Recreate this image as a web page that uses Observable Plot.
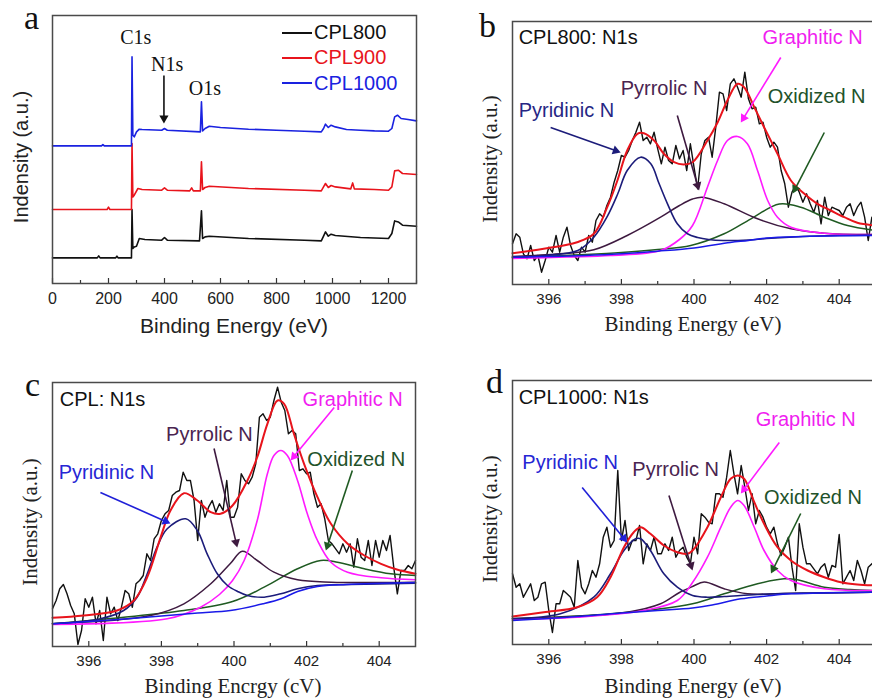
<!DOCTYPE html>
<html><head><meta charset="utf-8">
<script src="https://cdn.jsdelivr.net/npm/d3@7"></script>
<script src="https://cdn.jsdelivr.net/npm/@observablehq/plot@0.6"></script>
<style>
html,body{margin:0;padding:0;background:#fff;overflow:hidden}
#root{position:relative;width:872px;height:699px;overflow:hidden;background:#fff}
.panel{position:absolute}
.lbl{position:absolute;white-space:nowrap;line-height:1}
.serif{font-family:"Liberation Serif","Times New Roman",serif}
.sans{font-family:"Liberation Sans",Arial,sans-serif}
.rot{transform:translate(-50%,-50%) rotate(-90deg);transform-origin:center}
.leg{position:absolute;display:flex;align-items:center;height:22px;font-family:"Liberation Sans",Arial,sans-serif;font-size:20px}
.leg span.ln{display:inline-block;width:30px;height:2px;margin-right:2px}
</style></head>
<body><div id="root"></div>
<script>
// ---------- DATA ----------
// Panel a: survey spectra [binding energy eV, intensity a.u.]
const survey800 = [[0,25.6],[160,25.6],[165,27.6],[170,25.6],[225,25.6],[230,27.3],[235,25.6],[282,25.6],[284,74],[287,35],[292,36.6],[300,37.3],[310,45],[330,44],[390,43.3],[400,46],[410,43.3],[525,42.6],[532,72.6],[536,45],[545,46.6],[560,47.3],[700,45],[900,43.3],[960,42.6],[968,47.3],[975,51.6],[985,47.3],[995,49.3],[1010,48],[1100,46],[1200,45],[1212,50],[1222,62.6],[1235,61.6],[1250,58.3],[1300,57.3]];
const survey900 = [[0,74],[195,74],[200,76.3],[205,74],[282,74],[284,140],[287,86.6],[292,88.3],[305,95],[320,94],[390,93.3],[400,95.6],[410,93.3],[490,92.6],[497,95.6],[503,92.6],[528,92.6],[532,121.6],[536,94],[545,96],[560,97.3],[700,95],[900,93.3],[960,92.6],[968,96.6],[975,100],[985,96],[995,98],[1010,96.6],[1065,94.6],[1072,100.6],[1078,94.6],[1150,94],[1200,93.3],[1212,96.6],[1222,112.6],[1235,113.3],[1250,110],[1300,109]];
const survey1000 = [[0,137.6],[175,137.6],[180,139],[185,137.6],[282,137.6],[284,226.6],[287,148.3],[292,146.7],[300,151.6],[310,154.3],[320,154],[390,153.3],[400,155],[410,153.3],[528,151.6],[532,181.6],[536,152.6],[545,155],[560,157.3],[600,156],[700,154.3],[800,153.3],[900,152.3],[960,151.6],[968,155],[975,159.3],[985,156],[995,158.3],[1010,156.6],[1050,154],[1100,153.3],[1150,152.6],[1200,152.3],[1212,155],[1222,166.6],[1232,168.3],[1245,165],[1270,164],[1300,162.6]];
const surveyNames = ["CPL800","CPL900","CPL1000"];
const surveyTicks = [0,200,400,600,800,1000,1200];
const surveyMinor = [100,300,500,700,900,1100,1300];
const surveyLabels = [{t:"C1s",x:242,y:240},{t:"N1s",x:352,y:213},{t:"O1s",x:486.5,y:189}];
const surveyArrow = [{x1:398,y1:208,x2:398,y2:160}];

// N1s panels: raw spectra on 0.1 eV grid from 395 to 405
const n1sTicks = [396,398,400,402,404];
const n1sMinor = [397,399,401,403];
const rawB = [40.7,50.7,47.3,30.7,25.7,39,24,29,12.3,24, 37.3,32.3,49,32.3,47.3,57.3,39,29,24,37.3, 32.3,49,42.3,64,70.7,67.3,79,87.3,102.3,114, 129,127.3,134,144,152.3,162.3,144,147.3,140.7,152.3, 135.7,120.7,137.3,124,120.7,139,125.7,134,114,140.7, 117.3,95.7,130.7,144,147.3,127.3,157.3,192.3,190.7,174, 200.7,205.7,197.3,187.3,212.3,185.7,175.7,177.3,160.7,162.3, 147.3,137.3,142.3,137.3,114,100.7,77.3,92.3,99,92.3, 82.3,90.7,80.7,72.3,84,60.7,87.3,69,77.3,75.7, 74,69,77.3,80.7,69,77.3,82.3,67.3,44,67.3, 64];
const rawC = [37.7,46,57.7,62,52.7,41,32.7,2,16,47.7, 39.3,49.3,22.7,36,6,49.3,32.7,39.3,26,39.3, 56,52.7,39.3,62.7,66,71,92.7,86,107.7,112.7, 126,132.7,136,151,154.3,156,174.3,166,166,146, 106,146,129.3,139.3,146,134.3,142.7,136,166,129.3, 129.3,139.3,172.7,166,162.7,169.3,182.7,229.3,232.7,226, 229.3,246,259.3,244.3,236,212.7,216,212.7,176,177.7, 172.7,174.3,152.7,139.3,142.7,127.7,106,102.7,97.7,92.7, 102.7,94.3,102.7,79.3,107.7,89.3,86,106,81,106, 89.3,106,96,111,79.3,52.7,76,76,81,77.7, 86];
const rawD = [70.7,57.3,60.7,47.3,54,60.7,44,47.3,60.7,62.3, 34,12,40.7,40.7,54,50.7,47.3,37.3,84,57.3, 50.7,60.7,74,67.3,80.7,107.3,117.3,97.3,104,174, 104,124,94,104,104,119,80.7,100.7,94,107.3, 90.7,90.7,100.7,94,107.3,87.3,94,97.3,87.3,80.7, 107.3,90.7,130.7,127.3,122.3,120.7,150.7,150.7,147.3,167.3, 194,170.7,150.7,179,157.3,134,150.7,120.7,134,127.3, 117.3,110.7,117.3,100.7,89,97.3,107.3,77.3,54,120.7, 97.3,80.7,80.7,75.7,70.7,77.3,80.7,67.3,79,77.3, 110,60.7,67.3,74,64,84,74,60.7,77.3,80.7, 84];

// Fitted components [eV, intensity]
const baseB = [[395,27.3],[396,28],[397,29],[398,30.7],[399,33.3],[400,36.5],[401,42],[401.5,44],[402,46.5],[403,48],[404,48.7],[405,49]];
const pyridB = [[395,27.3],[395.9,29],[396.8,34],[397.24,47.3],[397.6,67.3],[397.9,90.7],[398.16,114],[398.53,127.3],[398.81,120.7],[399.04,100.7],[399.27,80.7],[399.54,60.7],[399.82,50.7],[400.1,47],[400.4,45],[400.8,44],[401.5,44.5],[402,46],[403,48],[404,49],[405,49.5]];
const pyrroB = [[395,28],[396.3,30.7],[397.24,34.7],[398.16,49],[399.08,67.3],[399.6,79],[399.96,85.5],[400.23,87.3],[400.83,80.7],[401.75,65.7],[402.67,55.7],[403.59,51.3],[405,50]];
const graphB = [[395,26],[396.5,27.5],[397.7,29],[399.08,34],[399.6,45],[399.96,59],[400.37,97.3],[400.65,124],[400.92,144],[401.2,148],[401.47,140.7],[401.75,114],[402.03,84],[402.3,67.3],[402.67,57.3],[403.5,51.5],[405,50]];
const oxidB = [[395,27],[397,30],[398,32],[399,35],[399.91,39],[400.83,50.7],[401.57,65.7],[402.35,80.5],[402.94,77.3],[403.59,67.3],[404.23,59],[405,54]];
const envB = [[395,31.3],[395.86,35.7],[396.78,42.3],[397.24,50.7],[397.61,77.3],[397.89,104],[398.16,134],[398.44,150.7],[398.62,151.3],[398.9,144],[399.17,130.7],[399.45,122.3],[399.72,120],[399.96,122.3],[400.37,144],[400.65,162],[400.92,184],[401.2,200.7],[401.38,197.3],[401.66,177.3],[401.93,157.3],[402.3,130.7],[402.67,104],[403.04,90.7],[403.4,80.7],[403.77,74],[404.14,67.3],[404.5,61.7],[405,59]];

const baseC = [[395,22.7],[396,25],[397,27.5],[398,30.5],[399,33.5],[399.9,36],[400.8,42.7],[401.3,47.7],[401.75,55],[402.3,60],[403.1,62],[405,64]];
const pyridC = [[395,22.7],[396.32,27.7],[396.96,36],[397.33,49.3],[397.61,72.7],[397.88,99.3],[398.16,117.7],[398.67,127.7],[398.99,116],[399.26,92.7],[399.54,72.7],[399.82,61],[400.1,55],[400.37,51],[400.83,49.3],[401.29,52.7],[401.75,57.7],[402.3,61],[403.2,62],[405,63.3]];
const pyrroC = [[395,22.7],[397.7,31],[398.62,42.7],[399.36,62.7],[399.9,83],[400.23,95.3],[400.64,86],[401.1,74.3],[401.75,66.7],[402.67,64.3],[405,64.3]];
const graphC = [[395,22],[398.16,27.7],[399.08,39.3],[399.6,52],[399.96,66],[400.28,86],[400.64,126],[400.92,172.7],[401.1,191],[401.29,196],[401.47,191],[401.75,166],[402.02,132.7],[402.3,106],[402.67,84.3],[403.13,74.3],[404.05,68.7],[405,66.7]];
const oxidC = [[395,22.7],[398.62,36],[399.96,45],[400.83,59.3],[401.75,77.7],[402.39,86],[402.85,84.3],[403.59,77.7],[404.32,72.7],[405,71]];
const envC = [[395,28.7],[395.86,31],[396.78,36],[397.24,46],[397.61,69.3],[397.98,109.3],[398.25,136],[398.62,153.3],[398.99,146],[399.36,134.3],[399.63,132.7],[399.96,141],[400.37,166],[400.64,189.3],[400.92,222.7],[401.2,246],[401.38,242.7],[401.65,212.7],[401.93,182.7],[402.3,149.3],[402.67,122.7],[403.13,102.7],[403.59,91],[404.05,82.7],[404.51,76.7],[405,72.7]];

const baseD = [[395,24],[396,26],[397,28.5],[398,31.5],[399,34],[399.96,36.5],[400.5,39.5],[401.29,45.7],[402,48.5],[402.67,50.7],[403.5,51.5],[405,52.3]];
const pyridD = [[395,25.7],[396.32,30.7],[397.24,47.3],[397.7,70.7],[398.07,94],[398.39,105.7],[398.53,105.7],[398.8,94],[399.17,70.7],[399.54,57.3],[399.96,49],[400.37,47.3],[400.83,48],[401.75,50],[403,51.5],[405,52.3]];
const pyrroD = [[395,26],[396.32,27.3],[398.16,32.3],[399.08,40.7],[399.6,52],[399.96,58],[400.28,62.5],[400.83,55.7],[401.47,50.7],[402.5,51],[405,52.3]];
const graphD = [[395,25],[396.78,27.3],[398.62,34],[399.54,44],[399.96,62],[400.37,87.3],[400.74,117.3],[401.01,137.3],[401.2,144],[401.38,139],[401.66,117.3],[401.93,94],[402.3,74],[402.67,64],[403.59,55.7],[405,54]];
const oxidD = [[395,25.7],[397.7,30.7],[399.96,40.7],[400.83,50.7],[401.75,60.7],[402.48,65.7],[402.85,64.7],[403.59,57.3],[404.3,55],[405,54]];
const envD = [[395,28],[395.86,32.3],[396.78,37.3],[397.33,47.3],[397.7,67.3],[398.07,97.3],[398.34,112.3],[398.53,117.3],[398.8,110.7],[399.17,99],[399.54,92.3],[399.82,90.7],[399.96,94],[400.37,117.3],[400.74,147.3],[401.01,165.7],[401.2,169],[401.38,165.7],[401.66,142.3],[401.93,120.7],[402.3,97.3],[402.67,84],[403.13,74],[403.59,67.3],[404.05,62.3],[404.5,60],[405,59]];

// Annotation labels and arrows (data coordinates)
const labelsB = [{t:"CPL800: N1s",x:395.17,y:241,k:"title"},{t:"Pyridinic N",x:395.17,y:168,k:"pyridDark"},{t:"Pyrrolic N",x:397.98,y:190,k:"pyrro"},{t:"Graphitic N",x:401.89,y:241,k:"graph"},{t:"Oxidized N",x:402.03,y:182,k:"oxid"}];
const arrowsB = [{x1:396.05,y1:157,x2:397.98,y2:132,k:"pyridDark"},{x1:399.54,y1:169,x2:400.14,y2:94,k:"pyrro"},{x1:402.39,y1:227,x2:401.29,y2:162,k:"graph"},{x1:403.59,y1:152,x2:402.72,y2:91,k:"oxid"}];
const labelsC = [{t:"CPL: N1s",x:395.2,y:241,k:"title"},{t:"Pyridinic N",x:395.17,y:168,k:"pyridBright"},{t:"Pyrrolic N",x:398.13,y:206,k:"pyrro"},{t:"Graphitic N",x:401.89,y:241,k:"graph"},{t:"Oxidized N",x:402.02,y:181,k:"oxid"}];
const arrowsC = [{x1:396.32,y1:154,x2:398.25,y2:123,k:"pyridBright"},{x1:399.45,y1:198,x2:400.09,y2:99,k:"pyrro"},{x1:402.76,y1:239,x2:401.56,y2:186,k:"graph"},{x1:403.26,y1:176,x2:402.53,y2:96,k:"oxid"}];
const labelsD = [{t:"CPL1000: N1s",x:395.17,y:241,k:"title"},{t:"Graphitic N",x:401.7,y:219,k:"graph"},{t:"Pyridinic N",x:395.27,y:176,k:"pyridBright"},{t:"Pyrrolic N",x:398.3,y:169,k:"pyrro"},{t:"Oxidized N",x:401.93,y:141,k:"oxid"}];
const arrowsD = [{x1:396.92,y1:157,x2:398.16,y2:102,k:"pyridBright"},{x1:399.31,y1:149,x2:399.96,y2:74,k:"pyrro"},{x1:402.35,y1:202,x2:401.29,y2:151,k:"graph"},{x1:402.94,y1:131,x2:402.12,y2:71,k:"oxid"}];

// ---------- STYLE ----------
const C = {
  raw:"#111111", env:"#e8141c", pyrid:"#1c1c7a", base:"#1a1ae8", pyrro:"#3e1a40", graph:"#ff1aff", oxid:"#1f5a22",
  title:"#111111", pyridDark:"#262684", pyridBright:"#2626d4", s800:"#111111", s900:"#e8141c", s1000:"#1a22e0"
};
const textColor = {title:C.title, pyridDark:C.pyridDark, pyridBright:C.pyridBright, pyrro:"#4a2450", graph:"#f01ef0", oxid:"#22522a"};
const arrowColor = {pyridDark:C.pyrid, pyridBright:"#2020d8", pyrro:C.pyrro, graph:C.graph, oxid:C.oxid};
const SANS = "Liberation Sans, Arial, sans-serif";
const SERIF = "Liberation Serif, Times New Roman, serif";

const grid = d3.range(101).map(i => Math.round((395 + i * 0.1) * 10) / 10);
const pairs = vals => vals.map((v, i) => [grid[i], v]);

const root = document.getElementById("root");

function drawPanel(cfg) {
  const fw = cfg.width - cfg.ml - cfg.mr;
  const fh = cfg.height - cfg.mt - cfg.mb;
  const kx = fw / (cfg.xDomain[1] - cfg.xDomain[0]); // px per x unit
  const ky = 1;                                       // y domain = frame height
  const marks = [];
  for (const s of cfg.series) {
    marks.push(Plot.line(s.data, {stroke: s.color, strokeWidth: s.w, curve: s.curve || "linear", strokeLinejoin: "round"}));
  }
  marks.push(Plot.tickX(cfg.major, {x: d => d, insetTop: fh - 5, stroke: "#333", strokeWidth: 1.2}));
  marks.push(Plot.tickX(cfg.minor, {x: d => d, insetTop: fh - 3, stroke: "#333", strokeWidth: 1.2}));
  // arrows: shaft + filled triangular head
  const headR = 3.4;
  const tip = 2 * Math.sqrt((Math.PI * headR * headR) / (Math.sqrt(3) * 3));
  for (const a of cfg.arrows) {
    const dxp = (a.x2 - a.x1) * kx, dyp = -(a.y2 - a.y1) * ky;
    const len = Math.hypot(dxp, dyp), ux = dxp / len, uy = dyp / len;
    const head = {x: a.x2 - tip * ux / kx, y: a.y2 + tip * uy / ky, rot: Math.atan2(ux, -uy) * 180 / Math.PI};
    const shaftEnd = {x2: a.x2 - tip * 1.2 * ux / kx, y2: a.y2 + tip * 1.2 * uy / ky};
    marks.push(Plot.link([{...a, ...shaftEnd}], {x1: "x1", y1: "y1", x2: "x2", y2: "y2", stroke: a.color, strokeWidth: 1.6}));
    marks.push(Plot.dot([head], {x: "x", y: "y", symbol: "triangle", r: headR, rotate: "rot", fill: a.color, stroke: "none"}));
  }
  for (const t of cfg.texts) {
    marks.push(Plot.text([t], {x: "x", y: "y", text: "t", fill: t.color, textAnchor: "start", lineAnchor: "bottom", fontSize: t.fs, fontFamily: t.ff}));
  }
  marks.push(Plot.frame({stroke: "#4a4a4a", strokeWidth: 1.5}));
  const svg = Plot.plot({
    width: cfg.width, height: cfg.height,
    marginLeft: cfg.ml, marginRight: cfg.mr, marginTop: cfg.mt, marginBottom: cfg.mb,
    x: {domain: cfg.xDomain, ticks: cfg.major, tickSize: 0, tickPadding: 9, tickFormat: d => String(d), label: null},
    y: {domain: [0, fh], axis: null},
    r: {type: "identity"},
    style: {fontFamily: SANS, fontSize: cfg.tickFont + "px", color: "#222", background: "transparent", overflow: "visible"},
    marks
  });
  const div = document.createElement("div");
  div.className = "panel";
  div.style.left = cfg.left + "px";
  div.style.top = cfg.top + "px";
  div.style.width = cfg.width + "px";
  div.style.height = cfg.height + "px";
  div.appendChild(svg);
  root.appendChild(div);
}

function n1sSeries(raw, oxid, pyrro, graph, pyrid, base, env) {
  return [
    {data: pairs(raw), color: C.raw, w: 1.4},
    {data: oxid, color: C.oxid, w: 1.5, curve: "catmull-rom"},
    {data: pyrro, color: C.pyrro, w: 1.5, curve: "catmull-rom"},
    {data: graph, color: C.graph, w: 1.6, curve: "catmull-rom"},
    {data: pyrid, color: C.pyrid, w: 1.6, curve: "catmull-rom"},
    {data: base, color: C.base, w: 1.5, curve: "catmull-rom"},
    {data: env, color: C.env, w: 2, curve: "catmull-rom"}
  ];
}
const mkTexts = arr => arr.map(d => ({...d, color: textColor[d.k], fs: 20, ff: SANS}));
const mkArrows = arr => arr.map(d => ({...d, color: arrowColor[d.k]}));

// Panel a
drawPanel({
  left: 0, top: 0, width: 430, height: 340, ml: 52, mr: 14, mt: 15, mb: 57,
  xDomain: [0, 1300], major: surveyTicks, minor: surveyMinor, tickFont: 16,
  series: [
    {data: survey800, color: C.s800, w: 1.6},
    {data: survey900, color: C.s900, w: 1.6},
    {data: survey1000, color: C.s1000, w: 1.6}
  ],
  arrows: surveyArrow.map(d => ({...d, color: "#111"})),
  texts: surveyLabels.map(d => ({...d, color: "#111", fs: 20, ff: SERIF}))
});
// Panel b
drawPanel({
  left: 430, top: 0, width: 450, height: 340, ml: 82, mr: 5, mt: 21, mb: 56,
  xDomain: [395, 405], major: n1sTicks, minor: n1sMinor, tickFont: 15,
  series: n1sSeries(rawB, oxidB, pyrroB, graphB, pyridB, baseB, envB),
  arrows: mkArrows(arrowsB), texts: mkTexts(labelsB)
});
// Panel c
drawPanel({
  left: 0, top: 360, width: 430, height: 339, ml: 52, mr: 15, mt: 22, mb: 53,
  xDomain: [395, 405], major: n1sTicks, minor: n1sMinor, tickFont: 15,
  series: n1sSeries(rawC, oxidC, pyrroC, graphC, pyridC, baseC, envC),
  arrows: mkArrows(arrowsC), texts: mkTexts(labelsC)
});
// Panel d
drawPanel({
  left: 430, top: 360, width: 450, height: 339, ml: 82, mr: 5, mt: 20, mb: 55,
  xDomain: [395, 405], major: n1sTicks, minor: n1sMinor, tickFont: 15,
  series: n1sSeries(rawD, oxidD, pyrroD, graphD, pyridD, baseD, envD),
  arrows: mkArrows(arrowsD), texts: mkTexts(labelsD)
});

// ---------- HTML text: panel letters, axis titles, legend ----------
function label(text, cls, css) {
  const el = document.createElement("div");
  el.className = "lbl " + cls;
  el.textContent = text;
  Object.assign(el.style, css);
  root.appendChild(el);
  return el;
}
// panel letters
label("a", "serif", {left: "24px", top: "1px", fontSize: "34px", color: "#111"});
label("b", "serif", {left: "479px", top: "9px", fontSize: "34px", color: "#111"});
label("c", "serif", {left: "25px", top: "368px", fontSize: "34px", color: "#111"});
label("d", "serif", {left: "486px", top: "365px", fontSize: "34px", color: "#111"});
// x titles
label("Binding Energy (eV)", "sans", {left: "234px", top: "314.5px", fontSize: "21px", color: "#222", transform: "translateX(-50%)"});
label("Binding Energy (eV)", "serif", {left: "693px", top: "314px", fontSize: "21px", color: "#222", transform: "translateX(-50%)"});
label("Binding Encrgy (cV)", "serif", {left: "233px", top: "675.7px", fontSize: "21px", color: "#222", transform: "translateX(-50%)"});
label("Binding Energy (eV)", "serif", {left: "693px", top: "675.7px", fontSize: "21px", color: "#222", transform: "translateX(-50%)"});
// y titles (rotated, centred)
label("Indensity (a.u.)", "sans rot", {left: "21px", top: "157px", fontSize: "20px", color: "#222"});
label("Indensity (a.u.)", "serif rot", {left: "490px", top: "159px", fontSize: "21px", color: "#222"});
label("Indensity (a.u.)", "serif rot", {left: "30px", top: "522px", fontSize: "21px", color: "#222"});
label("Indensity (a.u.)", "serif rot", {left: "490px", top: "519px", fontSize: "21px", color: "#222"});
// legend of panel a
const legendColors = [C.s800, C.s900, C.s1000];
const legendY = [32.5, 57.5, 83];
surveyNames.forEach((name, i) => {
  const row = document.createElement("div");
  row.className = "leg";
  row.style.left = "282px";
  row.style.top = (legendY[i] - 11) + "px";
  const ln = document.createElement("span");
  ln.className = "ln";
  ln.style.background = legendColors[i];
  const tx = document.createElement("span");
  tx.textContent = name;
  tx.style.color = legendColors[i];
  row.appendChild(ln); row.appendChild(tx);
  root.appendChild(row);
});
</script>
</body></html>
